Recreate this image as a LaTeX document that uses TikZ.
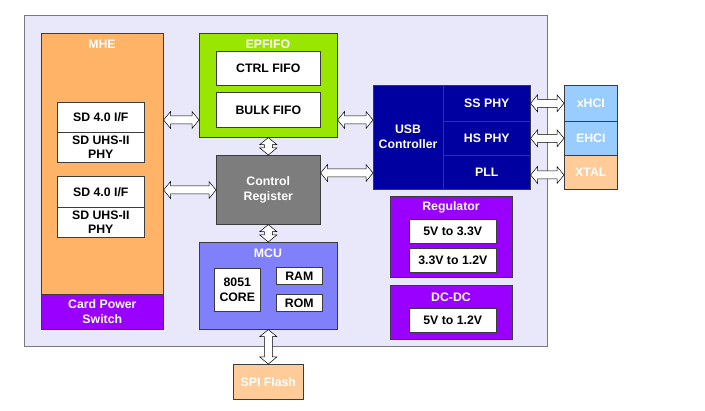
\documentclass[tikz,border=0pt]{standalone}
\usepackage{fontspec}
\setmainfont{Liberation Sans}
\usetikzlibrary{calc}
\definecolor{bgc}{RGB}{232,232,250}
\definecolor{bgline}{RGB}{120,120,130}
\definecolor{linec}{RGB}{60,60,60}
\definecolor{mheor}{RGB}{255,179,102}
\definecolor{purp}{RGB}{153,0,255}
\definecolor{grn}{RGB}{153,230,0}
\definecolor{gry}{RGB}{125,125,125}
\definecolor{mcub}{RGB}{128,128,250}
\definecolor{usbb}{RGB}{0,0,160}
\definecolor{lblue}{RGB}{153,204,255}
\definecolor{peach}{RGB}{255,204,153}
\newcommand\bx[7]{\node[#2, anchor=north west, minimum width={(#5-#3)*1pt}, minimum height={(#6-#4)*1pt}] (#1) at (#3,#4) {#7};}
\begin{document}
\begin{tikzpicture}[x=1pt,y=-1pt,
  font=\fontsize{12.3}{14.8}\selectfont\bfseries,
  box/.style={draw=linec, line width=0.6pt, inner sep=0pt, align=center},
  wbox/.style={box, fill=white, text=black},
  ttl/.style={text=white, inner sep=0pt, anchor=center},
  harrow/.style={draw=black, fill=white, line width=0.5pt, to path={
    let \p1=(\tikztostart), \p2=(\tikztotarget) in
    (\x1,\y1) -- ({\x1+7pt},{\y1+8.5pt}) -- ({\x1+7pt},{\y1+4pt}) -- ({\x2-7pt},{\y1+4pt}) -- ({\x2-7pt},{\y1+8.5pt}) -- (\x2,\y1) -- ({\x2-7pt},{\y1-8.5pt}) -- ({\x2-7pt},{\y1-4pt}) -- ({\x1+7pt},{\y1-4pt}) -- ({\x1+7pt},{\y1-8.5pt}) -- cycle}},
  varrow/.style={draw=black, fill=white, line width=0.5pt, to path={
    let \p1=(\tikztostart), \p2=(\tikztotarget) in
    (\x1,\y1) -- ({\x1+8.5pt},{\y1-7pt}) -- ({\x1+4pt},{\y1-7pt}) -- ({\x1+4pt},{\y2+7pt}) -- ({\x1+8.5pt},{\y2+7pt}) -- (\x1,\y2) -- ({\x1-8.5pt},{\y2+7pt}) -- ({\x1-4pt},{\y2+7pt}) -- ({\x1-4pt},{\y1-7pt}) -- ({\x1-8.5pt},{\y1-7pt}) -- cycle}}
]
\useasboundingbox (0,0) rectangle (705,411);
% background
\bx{bg}{draw=bgline, line width=0.7pt, fill=bgc, inner sep=0pt}{24}{15}{547}{346}{}
% MHE
\bx{mhe}{box, fill=mheor}{41}{33}{163}{329}{}
\node[ttl] (mhet) at (102,44) {MHE};
\bx{cps}{box, fill=purp, text=white}{41}{294}{163}{329}{Card Power\\Switch}
\bx{sdia}{wbox}{57}{102}{144}{132}{SD 4.0 I/F}
\bx{sdib}{wbox}{57}{132}{144}{162}{SD UHS-II\\PHY}
\bx{sdiia}{wbox}{57}{176}{144}{207}{SD 4.0 I/F}
\bx{sdiib}{wbox}{57}{207}{144}{237}{SD UHS-II\\PHY}
% EPFIFO
\bx{epfifo}{box, fill=grn}{199}{33}{337}{137}{}
\node[ttl] (epfifot) at (268,44) {EPFIFO};
\bx{ctrl}{wbox}{216}{51}{320}{85}{CTRL FIFO}
\bx{bulk}{wbox}{216}{92}{320}{127}{BULK FIFO}
% Control Register
\bx{creg}{box, fill=gry, text=white}{216}{155}{320}{224}{Control\\Register}
% MCU
\bx{mcu}{box, fill=mcub}{199}{242}{337}{329}{}
\node[ttl] (mcut) at (268,253) {MCU};
\bx{core}{wbox}{214}{268}{260}{311}{8051\\CORE}
\bx{ram}{wbox}{276}{267}{322}{284}{RAM}
\bx{rom}{wbox}{276}{294}{322}{311}{ROM}
% SPI Flash
\bx{spi}{box, fill=peach, text=white}{233}{364}{303}{399}{SPI Flash}
% USB
\bx{usb}{box, fill=usbb}{373}{85}{530}{189}{}
\node[ttl] (usbt) at (408,137) [align=center] {USB\\Controller};
\bx{ss}{box, fill=usbb, text=white}{443}{85}{530}{121}{SS PHY}
\bx{hs}{box, fill=usbb, text=white}{443}{121}{530}{155}{HS PHY}
\bx{pll}{box, fill=usbb, text=white}{443}{155}{530}{189}{PLL}
\bx{xhci}{box, fill=lblue, text=white}{564}{85}{617}{121}{xHCI}
\bx{ehci}{box, fill=lblue, text=white}{564}{121}{617}{155}{EHCI}
\bx{xtal}{box, fill=peach, text=white}{564}{155}{617}{189}{XTAL}
% Regulator
\bx{reg}{box, fill=purp}{390}{196}{512}{277}{}
\node[ttl] (regt) at (451,207) {Regulator};
\bx{ra}{wbox}{409}{219}{496}{243}{5V to 3.3V}
\bx{rb}{wbox}{409}{248}{496}{272}{3.3V to 1.2V}
\bx{dcdc}{box, fill=purp}{390}{285}{512}{339}{}
\node[ttl] (dcdct) at (451,297) {DC-DC};
\bx{rc}{wbox}{409}{308}{496}{332}{5V to 1.2V}
% arrows
\coordinate (ya) at (0,120);
\coordinate (yb) at (0,190);
\coordinate (yc) at (0,173);
\coordinate (yd) at (0,175);
\draw[harrow] (mhe.east |- ya) to (epfifo.west |- ya);
\draw[harrow] (mhe.east |- yb) to (creg.west |- yb);
\draw[harrow] (epfifo.east |- ya) to (usb.west |- ya);
\draw[harrow] (creg.east |- yc) to (usb.west |- yc);
\draw[varrow] (epfifo.south) to (creg.north);
\draw[varrow] (creg.south) to (mcu.north);
\draw[varrow] (mcu.south) to (spi.north);
\draw[harrow] (ss.east) to (xhci.west);
\draw[harrow] (hs.east) to (ehci.west);
\draw[harrow] (pll.east |- yd) to (xtal.west |- yd);
\end{tikzpicture}
\end{document}
